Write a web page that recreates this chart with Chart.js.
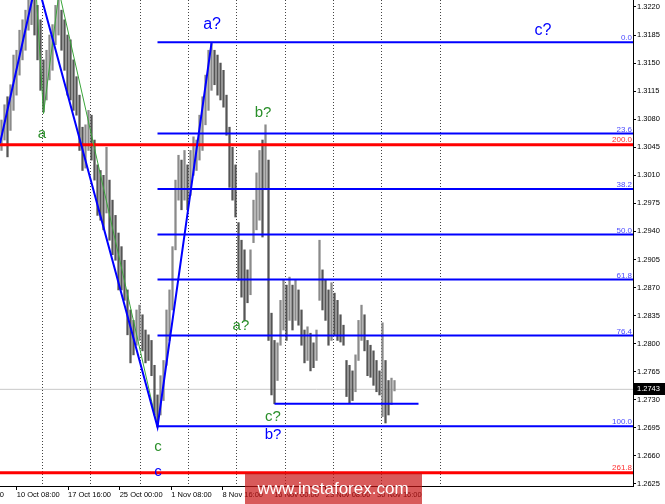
<!DOCTYPE html>
<html>
<head>
<meta charset="utf-8">
<title>GBP/USD H4</title>
<script src="https://cdn.jsdelivr.net/npm/chart.js@4.4.1/dist/chart.umd.min.js"></script>
<style>
  html, body { margin: 0; padding: 0; background: #fff; }
  canvas { display: block; }
</style>
</head>
<body>
<canvas id="chart" width="665" height="504"></canvas>
<script>
// H4 price bars (high / low)
const highs = [
  1.3079, 1.3098, 1.3108, 1.3123, 1.3160, 1.3166, 1.3191, 1.3204, 1.3216, 1.3229,
  1.3235, 1.3229, 1.3222, 1.3204, 1.3154, 1.3166, 1.3185, 1.3198, 1.3222, 1.3232,
  1.3216, 1.3204, 1.3185, 1.3179, 1.3154, 1.3133, 1.3110, 1.3070, 1.3073, 1.3091,
  1.3085, 1.3054, 1.3023, 1.3016, 1.3010, 1.3045, 1.3004, 1.2979, 1.2960, 1.2938,
  1.2921, 1.2904, 1.2867, 1.2842, 1.2829, 1.2842, 1.2848, 1.2836, 1.2817, 1.2811,
  1.2804, 1.2773, 1.2736, 1.2760, 1.2779, 1.2842, 1.2867, 1.2921, 1.3004, 1.3035,
  1.3029, 1.3041, 1.3023, 1.3041, 1.3058, 1.3054, 1.3085, 1.3108, 1.3135, 1.3166,
  1.3175, 1.3166, 1.3160, 1.3150, 1.3141, 1.3110, 1.3070, 1.3045, 1.3023, 1.2951,
  1.2929, 1.2917, 1.2892, 1.2917, 1.2979, 1.3013, 1.3041, 1.3054, 1.3073, 1.3029,
  1.2838, 1.2804, 1.2801, 1.2854, 1.2879, 1.2873, 1.2883, 1.2873, 1.2879, 1.2867,
  1.2842, 1.2817, 1.2821, 1.2813, 1.2801, 1.2817, 1.2929, 1.2892, 1.2879, 1.2867,
  1.2876, 1.2863, 1.2854, 1.2836, 1.2823, 1.2779, 1.2773, 1.2766, 1.2786, 1.2829,
  1.2848, 1.2836, 1.2804, 1.2798, 1.2791, 1.2779, 1.2766, 1.2826, 1.2779, 1.2754,
  1.2757, 1.2754
];
const lows = [
  1.3041, 1.3054, 1.3033, 1.3066, 1.3091, 1.3110, 1.3135, 1.3154, 1.3166, 1.3191,
  1.3198, 1.3185, 1.3154, 1.3116, 1.3089, 1.3104, 1.3129, 1.3141, 1.3173, 1.3185,
  1.3166, 1.3141, 1.3110, 1.3104, 1.3091, 1.3085, 1.3041, 1.3016, 1.3019, 1.3041,
  1.3029, 1.3004, 1.2960, 1.2954, 1.2942, 1.2963, 1.2929, 1.2911, 1.2904, 1.2867,
  1.2867, 1.2854, 1.2811, 1.2776, 1.2786, 1.2798, 1.2804, 1.2791, 1.2776, 1.2779,
  1.2760, 1.2711, 1.2696, 1.2711, 1.2729, 1.2773, 1.2804, 1.2842, 1.2917, 1.2979,
  1.2967, 1.2979, 1.2967, 1.2985, 1.3010, 1.3016, 1.3029, 1.3041, 1.3073, 1.3091,
  1.3116, 1.3123, 1.3110, 1.3104, 1.3095, 1.3060, 1.2995, 1.2979, 1.2958, 1.2879,
  1.2858, 1.2829, 1.2851, 1.2861, 1.2926, 1.2942, 1.2954, 1.2933, 1.2992, 1.2804,
  1.2736, 1.2725, 1.2754, 1.2798, 1.2817, 1.2804, 1.2829, 1.2817, 1.2829, 1.2823,
  1.2798, 1.2776, 1.2779, 1.2766, 1.2770, 1.2779, 1.2854, 1.2842, 1.2829, 1.2798,
  1.2804, 1.2811, 1.2804, 1.2802, 1.2798, 1.2734, 1.2726, 1.2729, 1.2740, 1.2779,
  1.2804, 1.2791, 1.2760, 1.2758, 1.2748, 1.2740, 1.2736, 1.2709, 1.2701, 1.2711,
  1.2724, 1.2741
];
const currentPrice = 1.2743;

// axis ticks
const yTicks = [1.3220, 1.3185, 1.3150, 1.3115, 1.3080, 1.3045, 1.3010, 1.2975, 1.2940,
  1.2905, 1.2870, 1.2835, 1.2800, 1.2765, 1.2730, 1.2695, 1.2660, 1.2625];
const xLabels = ['3 Oct 00:00', '10 Oct 08:00', '17 Oct 16:00', '25 Oct 00:00', '1 Nov 08:00',
  '8 Nov 16:00', '16 Nov 00:00', '23 Nov 08:00', '30 Nov 16:00'];
const xLabelBars = [-12.1, 5.1, 22.2, 39.4, 56.6, 73.7, 90.9, 108.1, 125.2];
const gridBars = [13.8, 29.8, 46.2, 62.2, 78.2, 94.5, 110.5, 126.5, 146.2];

// fibonacci grid (blue) and extension levels (red)
const fibLabels = ['0.0', '23.6', '38.2', '50.0', '61.8', '76.4', '100.0'];
const fibPrices = [1.3176, 1.3062, 1.2993, 1.2936, 1.2880, 1.2810, 1.2697];
const fibStartBar = 52;
const extLabels = ['200.0', '261.8'];
const extPrices = [1.3048, 1.2639];

// wave pivots
const blueWaveBars = [-0.5, 11.7, 52, 70];
const blueWavePrices = [1.3050, 1.3254, 1.2696, 1.3175];
const greenWaveBars = [11.2, 14, 19.2, 52];
const greenWavePrices = [1.3260, 1.3087, 1.3239, 1.2696];
const cLineBars = [91, 139];
const cLinePrice = 1.2725;

// wave marks: text, bar, price
const waveText = ['a', 'a?', 'b?', 'a?', 'c?', 'c?', 'b?', 'c', 'c'];
const waveBars = [13.5, 70.2, 87.2, 79.8, 180.5, 90.5, 90.5, 52.2, 52.2];
const wavePrices = [1.3062, 1.3198, 1.3088, 1.2822, 1.3190, 1.2709, 1.2686, 1.2671, 1.2640];

const X_MIN = -0.5, X_MAX = 210.5;
const Y_MIN = 1.26224, Y_MAX = 1.32287;

const BLUE = '#0000ff';
const GREEN = '#2a8f2a';
const FONT = '"Liberation Sans", Arial, sans-serif';
const waveColor = [GREEN, BLUE, GREEN, GREEN, BLUE, GREEN, BLUE, GREEN, BLUE];
const waveSize = [15, 16, 15, 15, 16, 15, 15, 15, 15];

function pts(xs, ys) {
    return xs.map((x, i) => ({ x: x, y: ys[i] }));
}
function hLine(x0, price) {
    return [{ x: x0, y: price }, { x: X_MAX, y: price }];
}
function lineSet(data, color, width, order) {
    return {
        type: 'line', data: data, borderColor: color, borderWidth: width,
        pointRadius: 0, fill: false, tension: 0, order: order,
        xAxisID: 'x', yAxisID: 'y'
    };
}

// falling bars a bit darker than rising ones
const barColors = highs.map((h, i) => {
    if (i === 0) return '#8a8a8a';
    return (h + lows[i]) < (highs[i - 1] + lows[i - 1]) ? '#555555' : '#8a8a8a';
});

const datasets = [];
datasets.push(lineSet(hLine(X_MIN, currentPrice), '#c8c8c8', 1, 30));
datasets.push({
    type: 'bar',
    data: highs.map((h, i) => ({ x: i, y: [lows[i], h] })),
    backgroundColor: barColors,
    barThickness: 1.6,
    order: 20,
    xAxisID: 'x', yAxisID: 'y'
});
fibPrices.forEach(p => datasets.push(lineSet(hLine(fibStartBar, p), BLUE, 2, 5)));
extPrices.forEach(p => datasets.push(lineSet(hLine(X_MIN, p), '#ff0000', 3, 4)));
datasets.push(lineSet(pts(cLineBars, [cLinePrice, cLinePrice]), BLUE, 2, 3));
datasets.push(lineSet(pts(greenWaveBars, greenWavePrices), '#3aa53a', 1, 2));
datasets.push(lineSet(pts(blueWaveBars, blueWavePrices), BLUE, 2, 1));

const overlayPlugin = {
    id: 'overlay',
    afterDatasetsDraw(chart) {
        const { ctx, chartArea } = chart;
        const x = chart.scales.x, y = chart.scales.y;
        ctx.save();
        ctx.font = '8px ' + FONT;
        ctx.textAlign = 'right';
        ctx.textBaseline = 'alphabetic';
        ctx.fillStyle = '#4a4aff';
        fibLabels.forEach((t, i) => {
            ctx.fillText(t, chartArea.right - 1, y.getPixelForValue(fibPrices[i]) - 2);
        });
        ctx.fillStyle = '#ff3030';
        extLabels.forEach((t, i) => {
            ctx.fillText(t, chartArea.right - 1, y.getPixelForValue(extPrices[i]) - 2.5);
        });
        ctx.textAlign = 'center';
        ctx.textBaseline = 'middle';
        waveText.forEach((t, i) => {
            ctx.font = waveSize[i] + 'px ' + FONT;
            ctx.fillStyle = waveColor[i];
            ctx.fillText(t, x.getPixelForValue(waveBars[i]), y.getPixelForValue(wavePrices[i]));
        });
        ctx.restore();
    },
    afterDraw(chart) {
        const { ctx, chartArea } = chart;
        const y = chart.scales.y;
        ctx.save();
        // current price tag
        const py = Math.round(y.getPixelForValue(currentPrice));
        ctx.fillStyle = '#000';
        ctx.fillRect(chartArea.right + 1, py - 6, 31, 12);
        ctx.fillStyle = '#fff';
        ctx.font = '7.5px ' + FONT;
        ctx.textAlign = 'left';
        ctx.textBaseline = 'middle';
        ctx.fillText(currentPrice.toFixed(4), chartArea.right + 4, py);
        // watermark
        ctx.fillStyle = 'rgba(200, 20, 20, 0.7)';
        ctx.fillRect(245, 473, 177, 31);
        ctx.fillStyle = '#fff';
        ctx.font = '17px ' + FONT;
        ctx.textAlign = 'center';
        ctx.fillText('www.instaforex.com', 333, 489);
        ctx.restore();
    }
};

new Chart(document.getElementById('chart'), {
    type: 'bar',
    data: { datasets: datasets },
    options: {
        responsive: false,
        animation: false,
        devicePixelRatio: 1,
        layout: { padding: 0 },
        plugins: { legend: { display: false }, tooltip: { enabled: false } },
        scales: {
            x: {
                type: 'linear', axis: 'x', position: 'bottom', min: X_MIN, max: X_MAX,
                offset: false,
                afterBuildTicks: s => { s.ticks = xLabelBars.map(v => ({ value: v })); },
                afterFit: s => { s.height = 18; s.paddingLeft = 0; s.paddingRight = 0; },
                ticks: {
                    autoSkip: false, maxRotation: 0, minRotation: 0, align: 'start', padding: 0,
                    color: '#000', font: { family: FONT, size: 7.5 },
                    callback: (v, i) => xLabels[i]
                },
                grid: { offset: false, drawOnChartArea: false, drawTicks: true, tickLength: 4, color: '#000' },
                border: { display: true, color: '#000' }
            },
            xg: {
                type: 'linear', axis: 'x', position: 'bottom', min: X_MIN, max: X_MAX,
                offset: false,
                afterBuildTicks: s => { s.ticks = gridBars.map(v => ({ value: v })); },
                afterFit: s => { s.height = 0; s.paddingLeft = 0; s.paddingRight = 0; },
                ticks: { display: false },
                grid: { offset: false, drawTicks: false, color: '#444', lineWidth: 1 },
                border: { display: false, dash: [1, 2] }
            },
            y: {
                type: 'linear', position: 'right', min: Y_MIN, max: Y_MAX,
                afterBuildTicks: s => { s.ticks = yTicks.map(v => ({ value: v })); },
                afterFit: s => { s.width = 32; s.paddingTop = 0; s.paddingBottom = 0; },
                ticks: {
                    padding: 1, color: '#000', font: { family: FONT, size: 7.5 },
                    callback: v => v.toFixed(4)
                },
                grid: { drawOnChartArea: false, tickLength: 3, color: '#000' },
                border: { display: true, color: '#000' }
            }
        }
    },
    plugins: [overlayPlugin]
});
</script>
</body>
</html>
